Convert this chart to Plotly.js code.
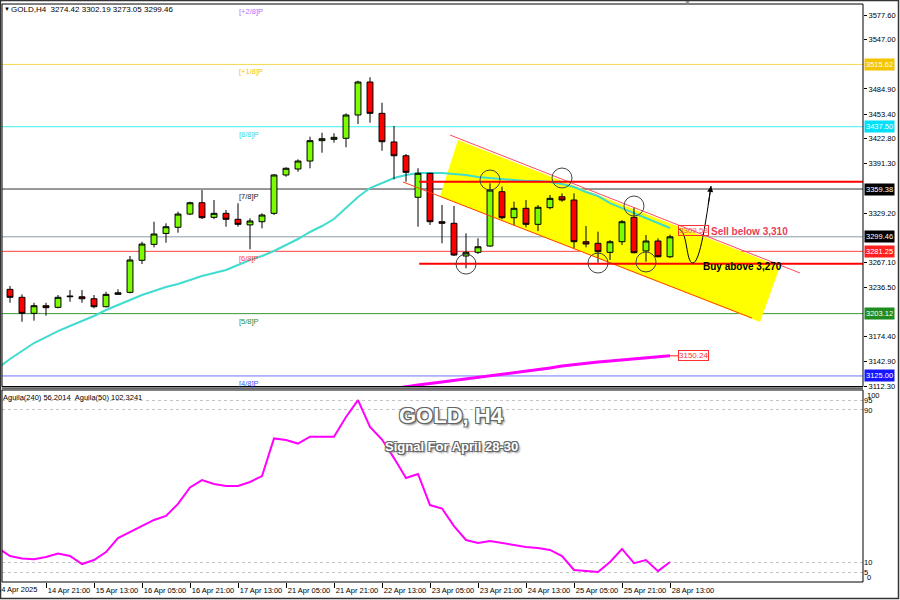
<!DOCTYPE html>
<html><head><meta charset="utf-8">
<script src="https://cdn.plot.ly/plotly-3.0.1.min.js"></script>
<style>html,body{margin:0;padding:0;background:#fff}#chart{width:900px;height:600px}</style>
</head><body><div id="chart"></div>
<script>
// ---------- DATA ----------
const symbol = 'GOLD,H4';
const barTimes = [
 '14 Apr 05:00','14 Apr 09:00','14 Apr 13:00','14 Apr 17:00','14 Apr 21:00',
 '15 Apr 01:00','15 Apr 05:00','15 Apr 09:00','15 Apr 13:00','15 Apr 17:00','15 Apr 21:00',
 '16 Apr 01:00','16 Apr 05:00','16 Apr 09:00','16 Apr 13:00','16 Apr 17:00','16 Apr 21:00',
 '17 Apr 01:00','17 Apr 05:00','17 Apr 09:00','17 Apr 13:00','17 Apr 17:00','17 Apr 21:00',
 '21 Apr 01:00','21 Apr 05:00','21 Apr 09:00','21 Apr 13:00','21 Apr 17:00','21 Apr 21:00',
 '22 Apr 01:00','22 Apr 05:00','22 Apr 09:00','22 Apr 13:00','22 Apr 17:00','22 Apr 21:00',
 '23 Apr 01:00','23 Apr 05:00','23 Apr 09:00','23 Apr 13:00','23 Apr 17:00','23 Apr 21:00',
 '24 Apr 01:00','24 Apr 05:00','24 Apr 09:00','24 Apr 13:00','24 Apr 17:00','24 Apr 21:00',
 '25 Apr 01:00','25 Apr 05:00','25 Apr 09:00','25 Apr 13:00','25 Apr 17:00','25 Apr 21:00',
 '28 Apr 01:00','28 Apr 05:00','28 Apr 09:00','28 Apr 13:00'];

const openP = [3230.0,3233.6,3223.6,3203.5,3213.1,3211.0,3224.3,3224.3,3221.8,3211.8,
 3227.3,3229.8,3270.0,3290.0,3303.7,3311.4,3328.0,3342.2,3323.9,3328.9,
 3321.4,3314.4,3318.4,3328.9,3377.0,3384.5,3394.5,3420.0,3421.7,3423.0,
 3452.2,3493.6,3454.3,3418.4,3401.1,3349.0,3379.1,3318.4,3316.4,3275.4,
 3280.0,3287.9,3356.0,3323.4,3335.2,3315.1,3336.0,3349.7,3345.6,3293.3,
 3291.3,3280.0,3293.3,3323.9,3281.7,3294.2,3274.42];
const highP = [3236.0,3237.8,3227.3,3216.8,3216.8,3226.5,3232.7,3232.7,3226.5,3230.6,
 3233.6,3275.4,3293.3,3318.4,3316.4,3331.0,3343.5,3358.1,3345.6,3333.1,
 3341.5,3322.7,3328.9,3378.2,3386.6,3396.6,3425.0,3430.0,3429.3,3454.3,
 3495.2,3499.5,3467.6,3438.4,3403.3,3385.4,3379.6,3339.3,3338.1,3303.8,
 3297.6,3366.5,3362.3,3343.5,3345.6,3339.3,3351.9,3354.0,3354.0,3313.0,
 3305.9,3295.4,3320.5,3336.5,3301.7,3297.6,3302.19];
const lowP = [3226.0,3216.8,3193.0,3194.3,3200.5,3209.8,3218.0,3216.8,3209.8,3211.0,
 3226.5,3228.6,3265.3,3286.3,3292.0,3304.6,3326.8,3321.8,3321.6,3312.1,
 3312.1,3283.8,3310.1,3326.8,3374.8,3381.1,3385.4,3404.9,3417.5,3411.7,
 3440.9,3442.5,3407.4,3371.5,3368.5,3312.1,3314.3,3291.3,3275.4,3260.0,
 3277.9,3287.0,3321.4,3314.3,3311.4,3306.7,3333.9,3343.5,3285.0,3286.3,
 3267.0,3270.4,3289.2,3278.8,3268.3,3273.7,3273.05];
const closeP = [3233.6,3223.6,3203.5,3213.1,3210.6,3223.6,3225.0,3221.8,3211.8,3227.3,
 3229.3,3270.4,3290.4,3303.0,3312.1,3328.0,3342.2,3323.4,3328.9,3321.4,
 3315.1,3319.3,3326.8,3377.0,3385.4,3394.5,3420.0,3422.5,3424.2,3452.2,
 3493.6,3454.3,3418.7,3401.1,3380.3,3379.1,3318.4,3316.4,3276.6,3280.0,
 3287.0,3358.1,3323.4,3335.2,3315.1,3336.5,3347.7,3345.6,3293.3,3290.4,
 3280.8,3293.3,3318.4,3279.5,3294.2,3274.5,3299.46];

const maFast = [3134.9,3146.2,3156.3,3166.3,3173.8,3181.3,3187.6,3193.9,3200.2,3207.7,
 3214.0,3220.2,3226.5,3231.5,3236.5,3240.3,3245.3,3250.3,3254.1,3257.8,
 3264.1,3270.4,3275.4,3281.7,3289.2,3296.7,3305.5,3313.0,3321.8,3335.6,
 3349.4,3360.6,3366.9,3373.2,3376.9,3379.5,3379.5,3379.5,3378.2,3376.9,
 3374.4,3373.2,3371.9,3370.7,3369.4,3369.4,3368.2,3365.7,3361.9,3355.6,
 3350.6,3341.8,3335.6,3329.3,3323.0,3316.8,3310.5];
const maSlow = [null,null,null,null,null,null,null,null,null,null,
 null,null,null,null,null,null,null,null,null,null,
 null,null,null,null,null,null,null,null,null,null,
 null,null,null,3109.2,3111.7,3113.6,3115.5,3117.4,3119.2,3121.1,
 3123.0,3124.9,3126.8,3128.7,3130.5,3132.4,3134.9,3137.4,3139.3,3141.2,
 3142.4,3143.7,3144.9,3146.2,3147.5,3148.7,3150.24];
const aguila = [17.7,13.5,12.2,11.8,13.0,14.8,13.5,9.3,11.4,15.6,
 22.9,26.1,29.0,32.4,34.5,40.8,49.4,53.3,51.2,50.2,
 50.2,52.3,55.4,75.1,74.3,72.4,76.0,76.0,76.0,86.3,
 95.2,81.1,74.5,64.8,54.4,56.5,40.2,38.4,29.2,21.9,
 20.3,21.4,20.3,19.3,18.2,17.7,16.7,13.5,6.2,5.6,
 5.1,10.4,17.2,9.8,11.4,5.6,10.4];

const firstTimeLabel = '14 Apr 2025';
const timeTickLabels = ['14 Apr 21:00','15 Apr 13:00','16 Apr 05:00','16 Apr 21:00','17 Apr 13:00',
 '21 Apr 05:00','21 Apr 21:00','22 Apr 13:00','23 Apr 05:00','23 Apr 21:00','24 Apr 13:00',
 '25 Apr 05:00','25 Apr 21:00','28 Apr 13:00'];
const priceTicks = [3577.60,3547.00,3484.90,3453.40,3422.80,3391.30,3329.20,3267.10,3236.50,3174.40,3142.90,3112.30];
const oscTicks = [5,10,90,95];

const murreyLevels = [3593.75,3515.62,3437.50,3359.38,3281.25,3203.12,3125.00];
const murreyNames = ['[+2/8]P','[+1/8]P','[8/8]P','[7/8]P','[6/8]P','[5/8]P','[4/8]P'];
const signalLevels = [3368.5,3265.6];
const pivotBars = [39,41,47,50,53,54];
const pivotPrices = [3265.3,3370.7,3373.2,3266.6,3338.1,3267.9];
const sellText = 'Sell below 3,310';
const buyText = 'Buy above 3,270';
const maFastLabel = '3309.58';
const oscHeader = 'Aguila(240) 56.2014\u00a0\u00a0Aguila(50) 102.3241';

// ---------- STYLES ----------
const murreyLineColors = ['#B070FF','#F8D850','#40EEF0','#333333','#FF4040','#3A9A3A','#7070FF'];
const murreyTextColors = ['#B070FF','#F5C400','#30D8E8','#222222','#FF4040','#2E8B2E','#4455FF'];
const murreyBoxColors  = ['#B070FF','#F5C400','#00E0F8','#000000','#FF2020','#1E8C1E','#1515FF'];
const FONT = 'Liberation Sans, Arial, sans-serif';
const MA_FAST_COLOR = '#40DCD0';

const N = barTimes.length;
const xIdx = barTimes.map((t, i) => i);
const last = N - 1;
const yTop = 3591.39;

const traces = [
 {type:'candlestick', x:xIdx, open:openP, high:highP, low:lowP, close:closeP,
  xaxis:'x', yaxis:'y2', whiskerwidth:0, hoverinfo:'skip', showlegend:false,
  increasing:{line:{color:'#000', width:1}, fillcolor:'#7CFC00'},
  decreasing:{line:{color:'#000', width:1}, fillcolor:'#FF0000'}},
 {type:'scatter', mode:'lines', x:xIdx, y:maFast, xaxis:'x', yaxis:'y2',
  line:{color:MA_FAST_COLOR, width:2}, hoverinfo:'skip', showlegend:false},
 {type:'scatter', mode:'lines', x:xIdx, y:maSlow, xaxis:'x', yaxis:'y2',
  line:{color:'#FF00FF', width:3}, hoverinfo:'skip', showlegend:false, connectgaps:false},
 {type:'scatter', mode:'lines', x:xIdx, y:aguila, xaxis:'x', yaxis:'y',
  line:{color:'#FF00FF', width:2}, hoverinfo:'skip', showlegend:false}
];

const shapes = [];
const annotations = [];

// yellow channel fill (background, under everything else)
shapes.push({type:'path', xref:'x', yref:'y2',
  path:'M 38.33,3420.8 L 65.17,3262.2 L 63.5,3192.6 L 36.83,3350.0 Z',
  fillcolor:'#FFFF00', line:{width:0}, layer:'below'});

// Murrey math lines + labels + right boxes
murreyLevels.forEach((lv, i) => {
  shapes.push({type:'line', xref:'paper', x0:0, x1:1, yref:'y2', y0:lv, y1:lv,
    line:{color:murreyLineColors[i], width:1}, layer:'below'});
  annotations.push({xref:'x', yref:'y2', x:19.92, y:Math.min(lv, yTop - 0.5), xanchor:'left', yanchor:'top',
    yshift:-1, text:murreyNames[i], showarrow:false, font:{family:FONT, size:7.5, color:murreyTextColors[i]}});
  if (lv < yTop) {
    annotations.push({xref:'paper', yref:'y2', x:1, y:lv, xanchor:'left', yanchor:'middle', xshift:1,
      text:lv.toFixed(2), showarrow:false, bgcolor:murreyBoxColors[i], borderpad:1,
      font:{family:FONT, size:7.5, color:'#fff'}});
  }
});
// bid line
shapes.push({type:'line', xref:'paper', x0:0, x1:1, yref:'y2', y0:closeP[last], y1:closeP[last],
  line:{color:'#8C9AAA', width:1}, layer:'below'});
annotations.push({xref:'paper', yref:'y2', x:1, y:closeP[last], xanchor:'left', yanchor:'middle', xshift:1,
  text:closeP[last].toFixed(2), showarrow:false, bgcolor:'#000', borderpad:1,
  font:{family:FONT, size:7.5, color:'#fff'}});

// channel borders
shapes.push({type:'line', xref:'x', yref:'y2', x0:37.67, y0:3427.1, x1:66.83, y1:3254.1,
  line:{color:'#FF4A5A', width:1}, layer:'above'});
shapes.push({type:'line', xref:'x', yref:'y2', x0:33.75, y0:3368.2, x1:62.83, y1:3197.6,
  line:{color:'#FF3A10', width:1}, layer:'above'});
// signal lines
signalLevels.forEach(lv => shapes.push({type:'line', xref:'x', yref:'y2', x0:35.1, x1:80, y0:lv, y1:lv,
  line:{color:'#FF0000', width:2}, layer:'above'}));
// pivot circles
pivotBars.forEach((b, i) => shapes.push({type:'circle', xref:'x', yref:'y2', xsizemode:'pixel', ysizemode:'pixel',
  xanchor:b, yanchor:pivotPrices[i], x0:-10, x1:10, y0:-10, y1:10,
  line:{color:'#444', width:1}, layer:'above'}));
// projected path
shapes.push({type:'path', xref:'x', yref:'y2',
  path:'M 56.67,3309.2 C 57.5,3309.2 57.3,3266.6 57.9,3266.6 C 58.5,3266.6 59.0,3320 59.42,3363.2',
  line:{color:'#000', width:1}, fillcolor:'rgba(0,0,0,0)', layer:'above'});
annotations.push({xref:'x', yref:'y2', x:59.42, y:3363.2, ax:-3, ay:20, text:'', showarrow:true,
  arrowhead:2, arrowsize:1.2, arrowwidth:1, arrowcolor:'#000'});
// connectors to price labels
shapes.push({type:'line', xref:'x', yref:'y2', x0:last, x1:56.75, y0:maSlow[last], y1:maSlow[last],
  line:{color:'#FF2020', width:1}, layer:'above'});
annotations.push({xref:'x', yref:'y2', x:56.7, y:maSlow[last], xanchor:'left', yanchor:'middle',
  text:maSlow[last].toFixed(2), showarrow:false, bgcolor:'#fff', bordercolor:'#FF3030', borderwidth:1, borderpad:0,
  font:{family:FONT, size:8, color:'#FF3030'}});
annotations.push({xref:'x', yref:'y2', x:56.7, y:3307.4, xanchor:'left', yanchor:'middle',
  text:maFastLabel, showarrow:false, bordercolor:'#FF3030', borderwidth:1, borderpad:0,
  font:{family:FONT, size:8, color:'#FF5060'}});
annotations.push({xref:'x', yref:'y2', x:59.25, y:3306.7, xanchor:'left', yanchor:'middle',
  text:sellText, showarrow:false, font:{family:FONT, size:10, color:'#E8405A', weight:'bold'}});
annotations.push({xref:'x', yref:'y2', x:58.6, y:3262.8, xanchor:'left', yanchor:'middle',
  text:buyText, showarrow:false, font:{family:FONT, size:10, color:'#000', weight:'bold'}});

// headers
annotations.push({xref:'paper', yref:'paper', x:0.0005, y:0.9913, xanchor:'left', yanchor:'middle',
  text:'\u25BC', showarrow:false, font:{family:FONT, size:6, color:'#000'}});
annotations.push({xref:'paper', yref:'paper', x:0.0081, y:0.9913, xanchor:'left', yanchor:'middle',
  text:symbol + '\u00a0\u00a0' + [openP[last], highP[last], lowP[last], closeP[last]].map(v => v.toFixed(2)).join(' '),
  showarrow:false, font:{family:FONT, size:8, color:'#000'}});
annotations.push({xref:'paper', yref:'paper', x:0.7967, y:1.0025, xanchor:'center', yanchor:'middle',
  text:'\u25BC', showarrow:false, font:{family:FONT, size:7, color:'#888'}});
annotations.push({xref:'paper', yref:'paper', x:-0.001, y:0.3200, xanchor:'left', yanchor:'middle',
  text:oscHeader, showarrow:false, font:{family:FONT, size:7.5, color:'#000'}});
const shadow = '-1px -1px 0 #666, 1px -1px 0 #666, -1px 1px 0 #666, 1px 1px 0 #666, 2px 2px 2px #888';
annotations.push({xref:'paper', yref:'paper', x:0.5215, y:0.2872, xanchor:'center', yanchor:'middle',
  text:'GOLD, H4', showarrow:false, font:{family:FONT, size:22, color:'#fff', weight:'bold', shadow:shadow}});
annotations.push({xref:'paper', yref:'paper', x:0.5215, y:0.2336, xanchor:'center', yanchor:'middle',
  text:'Signal For April 28-30', showarrow:false, font:{family:FONT, size:13, color:'#fff', weight:'bold', shadow:shadow}});
// osc 0/100 labels (clamped inside the panel like MT4)
annotations.push({xref:'paper', yref:'paper', x:1, xshift:2, y:0.3235, xanchor:'left', yanchor:'middle',
  text:'100', showarrow:false, font:{family:FONT, size:7.5, color:'#000'}});
annotations.push({xref:'paper', yref:'paper', x:1, xshift:2, y:0.0085, xanchor:'left', yanchor:'middle',
  text:'0', showarrow:false, font:{family:FONT, size:7.5, color:'#000'}});
// first (cut) time label
annotations.push({xref:'paper', yref:'paper', x:-0.0081, y:-0.0125, xanchor:'left', yanchor:'middle',
  text:firstTimeLabel, showarrow:false, font:{family:FONT, size:7.5, color:'#000'}});

// frames
shapes.push({type:'rect', xref:'paper', yref:'y2 domain', x0:0, x1:1, y0:0, y1:1, line:{color:'#000', width:1}, layer:'above'});
shapes.push({type:'rect', xref:'paper', yref:'y domain', x0:0, x1:1, y0:0, y1:1, line:{color:'#000', width:1}, layer:'above'});
shapes.push({type:'line', xref:'paper', yref:'paper', x0:0, x1:1, y0:0.3351, y1:0.3351, line:{color:'#666', width:2}, layer:'above'});
shapes.push({type:'rect', xref:'paper', yref:'paper', x0:-0.00174, x1:1.04123, y0:-0.02855, y1:1.00606,
  line:{color:'#333', width:1.5}, layer:'above'});

const layout = {
  width:900, height:600, margin:{l:2, r:37, t:4, b:18, autoexpand:false},
  paper_bgcolor:'#fff', plot_bgcolor:'#fff', showlegend:false, hovermode:false,
  font:{family:FONT, size:8, color:'#000'},
  xaxis:{domain:[0,1], range:[0.333, 72.083], autorange:false, anchor:'y',
    tickvals:timeTickLabels.map(t => barTimes.indexOf(t)), ticktext:timeTickLabels,
    ticks:'outside', ticklen:5, tickcolor:'#000', tickwidth:1,
    tickfont:{family:FONT, size:7.5, color:'#000'}, ticklabelshift:23, ticklabelstandoff:-4,
    showgrid:false, zeroline:false, showline:false, rangeslider:{visible:false}, fixedrange:true},
  yaxis2:{domain:[0.3382, 1], range:[3111.74, yTop], autorange:false, anchor:'x', side:'right',
    tickvals:priceTicks, ticktext:priceTicks.map(v => v.toFixed(2)),
    ticks:'outside', ticklen:3, tickcolor:'#000', tickfont:{family:FONT, size:7.5, color:'#000'},
    showgrid:false, zeroline:false, showline:false, fixedrange:true},
  yaxis:{domain:[0, 0.3322], range:[-0.1, 100.47], autorange:false, anchor:'x', side:'right',
    tickvals:oscTicks, ticktext:oscTicks.map(String), ticks:'',
    tickfont:{family:FONT, size:7.5, color:'#000'},
    showgrid:true, gridcolor:'#C4C4C4', gridwidth:1, griddash:'3px,3px',
    zeroline:false, showline:false, fixedrange:true},
  shapes:shapes, annotations:annotations
};

// The MT4 fast MA looks green where it crosses the yellow channel: multiply-blend it.
function blendFastMA() {
  document.querySelectorAll('.scatterlayer path.js-line').forEach(p => {
    const s = (p.getAttribute('style') || '').replace(/\s/g, '');
    if (s.indexOf('rgb(64,220,208)') >= 0) p.style.mixBlendMode = 'multiply';
  });
}
const gd = document.getElementById('chart');
Plotly.newPlot(gd, traces, layout, {displayModeBar:false, staticPlot:true}).then(() => {
  blendFastMA();
  gd.on && gd.on('plotly_afterplot', blendFastMA);
  setTimeout(blendFastMA, 50);
});
</script>
</body></html>
